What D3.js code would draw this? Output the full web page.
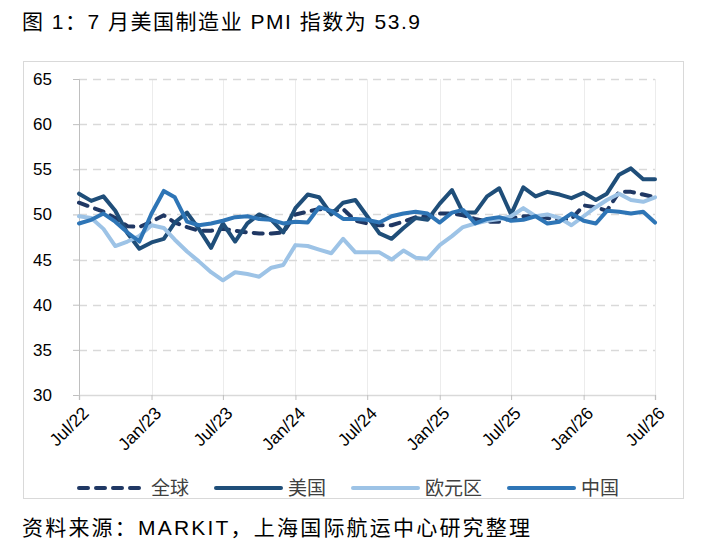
<!DOCTYPE html>
<html><head><meta charset="utf-8">
<script src="https://cdn.jsdelivr.net/npm/d3@7"></script>
<style>
body{margin:0;background:#fff;}
text{font-family:"Liberation Sans",Arial,"Noto Sans CJK SC",sans-serif;}
</style>
</head><body>
<svg id="chart" width="705" height="545"></svg>
<script>
// ---------- data ----------
const titleText = "图 1：7 月美国制造业 PMI 指数为 53.9";
const sourceText = "资料来源：MARKIT，上海国际航运中心研究整理";
const firstMonth = "2022-07";
const tickLabels = ["Jul/22","Jan/23","Jul/23","Jan/24","Jul/24","Jan/25","Jul/25","Jan/26","Jul/26"];
const yTicks = [30,35,40,45,50,55,60,65];
const seriesNames = ["全球","美国","欧元区","中国"];

const globalPMI = [51.3,50.8,50.3,49.6,48.7,48.6,49.2,49.9,49.1,48.6,48.2,48.2,
                   48.4,48.2,48.0,47.9,47.9,48.0,50.0,50.3,50.6,50.3,50.6,49.3,
                   49.0,48.8,48.8,49.2,49.7,49.8,50.1,50.1,49.9,49.5,49.2,49.2,
                   49.6,49.8,49.8,49.6,49.4,49.5,51.0,50.8,50.4,52.5,52.5,52.2,51.9];
const usPMI     = [52.3,51.5,52.0,50.4,47.9,46.2,46.9,47.3,49.1,50.2,48.4,46.3,
                   49.0,47.0,49.0,50.0,49.4,48.0,50.7,52.2,51.9,50.0,51.3,51.6,
                   49.8,47.9,47.3,48.5,49.6,49.4,51.2,52.7,50.2,50.2,52.0,52.9,
                   50.0,53.0,52.0,52.5,52.2,51.8,52.4,51.6,52.3,54.4,55.1,53.9,53.9];
const euroPMI   = [49.8,49.6,48.4,46.5,47.0,47.6,48.8,48.5,47.2,45.9,44.8,43.6,
                   42.7,43.6,43.4,43.1,44.1,44.4,46.6,46.5,46.1,45.7,47.3,45.8,
                   45.8,45.8,45.0,46.0,45.2,45.1,46.6,47.6,48.6,49.0,49.3,49.5,
                   49.8,50.7,49.8,50.0,49.6,48.8,49.8,50.8,51.6,52.3,51.6,51.4,51.9];
const chinaPMI  = [49.0,49.4,50.1,49.2,48.0,47.0,50.1,52.6,51.9,49.2,48.8,49.0,
                   49.3,49.7,49.8,49.5,49.4,49.0,49.2,49.1,50.8,50.4,49.5,49.5,
                   49.4,49.1,49.8,50.1,50.3,50.1,49.1,50.2,50.5,49.0,49.5,49.7,
                   49.3,49.4,49.8,49.0,49.2,50.1,49.3,49.0,50.4,50.3,50.1,50.3,49.1];

// ---------- styles ----------
const colors = {"全球":"#203864","美国":"#1f4e79","欧元区":"#9dc3e6","中国":"#2e75b6"};
const dashes = {"全球":"9,8","美国":null,"欧元区":null,"中国":null};
const mixedFont = "'Liberation Sans',Arial,'Noto Sans CJK SC',sans-serif";

const svg = d3.select("#chart");
const W = 705, H = 545;
const m = {left:79, right:50, top:79, bottom:150};

const t0 = d3.timeParse("%Y-%m")(firstMonth);
const dates = usPMI.map((_,i)=>d3.timeMonth.offset(t0,i));
const x = d3.scaleTime().domain([dates[0], dates[dates.length-1]]).range([m.left, W-m.right]);
const y = d3.scaleLinear().domain([30,65]).range([H-m.bottom, m.top]);
const tickDates = tickLabels.map((_,i)=>d3.timeMonth.offset(t0,i*6));

// title
svg.append("text").attr("x",22).attr("y",29).attr("font-size",21).attr("fill","#000")
  .style("font-family",mixedFont)
  .attr("textLength",398).attr("lengthAdjust","spacing").text(titleText);

// frame
svg.append("rect").attr("x",23.5).attr("y",61.5).attr("width",660).attr("height",437)
  .attr("fill","none").attr("stroke","#d9d9d9").attr("stroke-width",1);

// vertical grid
svg.append("g").selectAll("line").data(tickDates.slice(1)).join("line")
  .attr("x1",d=>Math.round(x(d))+0.5).attr("x2",d=>Math.round(x(d))+0.5)
  .attr("y1",y(65)).attr("y2",y(30)).attr("stroke","#ececec").attr("stroke-width",1);

// horizontal grid (dashed)
svg.append("g").selectAll("line").data(yTicks.slice(1)).join("line")
  .attr("x1",m.left).attr("x2",W-m.right)
  .attr("y1",d=>Math.round(y(d))+0.5).attr("y2",d=>Math.round(y(d))+0.5)
  .attr("stroke","#d9d9d9").attr("stroke-width",1.3).attr("stroke-dasharray","8,6");

// y axis
const yAxis = svg.append("g").attr("transform",`translate(${m.left},0)`)
  .call(d3.axisLeft(y).tickValues(yTicks).tickSize(6).tickPadding(21));
yAxis.select(".domain").attr("stroke","#bfbfbf");
yAxis.selectAll(".tick line").attr("stroke","#bfbfbf");
yAxis.selectAll(".tick text").attr("font-size",17).attr("fill","#000")
  .style("font-family","'Liberation Sans',Arial,sans-serif");

// x axis
const xAxis = svg.append("g").attr("transform",`translate(0,${y(30)})`)
  .call(d3.axisBottom(x).tickValues(tickDates).tickSize(5).tickFormat((d,i)=>tickLabels[i]));
xAxis.select(".domain").attr("stroke","#d9d9d9").attr("stroke-width",1.5);
xAxis.selectAll(".tick line").attr("stroke","#bfbfbf");
xAxis.selectAll(".tick text").attr("font-size",17.5).attr("fill","#000")
  .style("font-family","'Liberation Sans',Arial,sans-serif")
  .attr("text-anchor","end").attr("dy","0.35em")
  .attr("transform","translate(6,15) rotate(-45)").attr("y",0).attr("x",0);

// lines
const series = [
  {name:"全球", values:globalPMI},
  {name:"美国", values:usPMI},
  {name:"欧元区", values:euroPMI},
  {name:"中国", values:chinaPMI}
];
const line = d3.line().x((d,i)=>x(dates[i])).y(d=>y(d));
svg.append("g").selectAll("path").data(series).join("path")
  .attr("d",d=>line(d.values)).attr("fill","none")
  .attr("stroke",d=>colors[d.name]).attr("stroke-width",4)
  .attr("stroke-linejoin","round").attr("stroke-linecap","round")
  .attr("stroke-dasharray",d=>dashes[d.name]);

// legend
const legendX = [79,216,353,509];
const lg = svg.append("g").selectAll("g").data(series).join("g")
  .attr("transform",(d,i)=>`translate(${legendX[i]},488)`);
lg.append("line").attr("x1",0).attr("x2",65).attr("y1",0).attr("y2",0)
  .attr("stroke",d=>colors[d.name]).attr("stroke-width",4).attr("stroke-linecap","round")
  .attr("stroke-dasharray",d=>dashes[d.name]);
lg.append("text").attr("x",72).attr("y",0).attr("dy","0.36em").attr("font-size",19)
  .attr("fill","#404040").style("font-family","'Noto Sans CJK SC',sans-serif")
  .text(d=>d.name);

// source
svg.append("text").attr("x",22).attr("y",535).attr("font-size",21).attr("fill","#000")
  .style("font-family",mixedFont)
  .attr("textLength",508).attr("lengthAdjust","spacing").text(sourceText);
</script>
</body></html>
